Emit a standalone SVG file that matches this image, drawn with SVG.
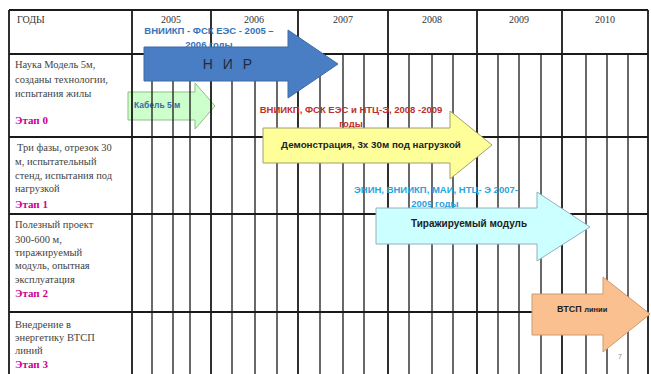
<svg xmlns="http://www.w3.org/2000/svg" width="651" height="374" viewBox="0 0 651 374">
<style>
.grid{stroke:#2a2a2a;stroke-width:1.4;fill:none}
.yr{stroke:#1a1a1a;stroke-width:1.8;fill:none}
.hl{stroke:#1a1a1a;stroke-width:2;fill:none}
.lt{font-family:"Liberation Serif",serif;font-size:10.5px;fill:#444}
.st{font-family:"Liberation Serif",serif;font-size:11px;font-weight:bold;fill:#cc0099}
.hd{font-family:"Liberation Serif",serif;font-size:10px;fill:#333}
.lab{font-family:"Liberation Sans",Arial,sans-serif;font-size:9.5px;font-weight:bold}
.ar{font-family:"Liberation Sans",Arial,sans-serif;font-weight:bold;fill:#222}
</style>
<rect width="651" height="374" fill="#fff"/>
<g id="arrow-cable">
<path d="M128,92 H195 V83 L215,106 L195,129 V120 H128 Z" fill="#ccffcc" stroke="#8fbf80" stroke-width="1"/>
<text x="134" y="108" class="lab" style="font-size:8.5px" fill="#3a6aa8">Кабель 5 м</text>
</g>
<g id="grid">
<path class="grid" d="M152,54V374M173,54V374M190,54V374M232,54V374M255,54V374M277,54V374M320,54V374M343,54V374M364,54V374M409,54V374M432,54V374M453,54V374M498,54V374M519,54V374M541,54V374M586,54V374M607,54V374M628,54V374"/>
<path class="yr" d="M9,10V374M132,10V374M211,10V374M298,10V374M388,10V374M477,10V374M562,10V374M648,10V374"/>
<path class="hl" d="M9,10H648M9,54H648M9,137H648M9,214H648M9,312H648"/>
</g>
<g id="header">
<text x="17" y="23" class="hd">ГОДЫ</text>
<text x="171" y="23" class="hd" text-anchor="middle">2005</text>
<text x="254" y="23" class="hd" text-anchor="middle">2006</text>
<text x="343" y="23" class="hd" text-anchor="middle">2007</text>
<text x="432" y="23" class="hd" text-anchor="middle">2008</text>
<text x="519" y="23" class="hd" text-anchor="middle">2009</text>
<text x="605" y="23" class="hd" text-anchor="middle">2010</text>
</g>
<g id="stage0">
<text class="lt" x="15" y="68">Наука Модель 5м,</text>
<text class="lt" x="15" y="83">созданы технологии,</text>
<text class="lt" x="15" y="97">испытания жилы</text>
<text class="st" x="15" y="124">Этап  0</text>
</g>
<g id="stage1">
<text class="lt" x="17" y="151">Три фазы, отрезок 30</text>
<text class="lt" x="15" y="165">м, испытательный</text>
<text class="lt" x="15" y="179">стенд, испытания под</text>
<text class="lt" x="15" y="192">нагрузкой</text>
<text class="st" x="15" y="208">Этап  1</text>
</g>
<g id="stage2">
<text class="lt" x="15" y="228">Полезный проект</text>
<text class="lt" x="15" y="243">300-600 м,</text>
<text class="lt" x="15" y="256">тиражируемый</text>
<text class="lt" x="15" y="269">модуль, опытная</text>
<text class="lt" x="15" y="283">эксплуатация</text>
<text class="st" x="15" y="297">Этап  2</text>
</g>
<g id="stage3">
<text class="lt" x="15" y="328">Внедрение в</text>
<text class="lt" x="15" y="341">энергетику ВТСП</text>
<text class="lt" x="15" y="354">линий</text>
<text class="st" x="15" y="368">Этап  3</text>
</g>
<g id="labels">
<text class="lab" x="209" y="34" text-anchor="middle" fill="#3573b8">ВНИИКП - ФСК ЕЭС - 2005 –</text>
<text class="lab" x="209" y="48" text-anchor="middle" fill="#3573b8">2006 годы</text>
<text class="lab" x="351" y="113" text-anchor="middle" fill="#c0302a">ВНИИКП, ФСК ЕЭС и НТЦ-Э, 2008 -2009</text>
<text class="lab" x="351" y="127" text-anchor="middle" fill="#c0302a">годы</text>
<text class="lab" x="436" y="193" text-anchor="middle" fill="#2ba3dd">ЭНИН, ВНИИКП,  МАИ, НТЦ- Э 2007-</text>
<text class="lab" x="435" y="207" text-anchor="middle" fill="#2ba3dd">2009 годы</text>
<text x="618" y="359" font-family="Liberation Sans,Arial,sans-serif" font-size="7px" fill="#888">7</text>
</g>
<g id="arrow-nir">
<path d="M144,47 H288 V30 L338,64 L288,98 V81 H144 Z" fill="#4a7ec4" stroke="#3c6aa6" stroke-width="1"/>
<text x="229" y="69" style="font-family:'Liberation Sans',Arial,sans-serif;font-size:14px;font-weight:normal;fill:#1f2a44;letter-spacing:3px" text-anchor="middle">Н И Р</text>
</g>
<g id="arrow-demo">
<path d="M263,128 H450 V111 L492,145 L450,179 V163 H263 Z" fill="#ffff99" stroke="#a0a070" stroke-width="1"/>
<text x="371" y="148" class="ar" style="font-size:9.8px" text-anchor="middle">Демонстрация, 3х 30м под нагрузкой</text>
</g>
<g id="arrow-module">
<path d="M376,208 H537 V192 L590,227 L537,261 V244 H376 Z" fill="#ccffff" stroke="#90b0c0" stroke-width="1"/>
<text x="469" y="227" class="ar" style="font-size:10px" text-anchor="middle">Тиражируемый модуль</text>
</g>
<g id="arrow-htsc">
<path d="M532,294 H603 V277 L650,314 L603,352 V335 H532 Z" fill="#fac090" stroke="#d09a6a" stroke-width="1"/>
<text x="557" y="312" class="ar" style="font-size:9px">ВТСП <tspan style="font-size:7.5px">линии</tspan></text>
</g>
<g id="connectors"/>
</svg>
